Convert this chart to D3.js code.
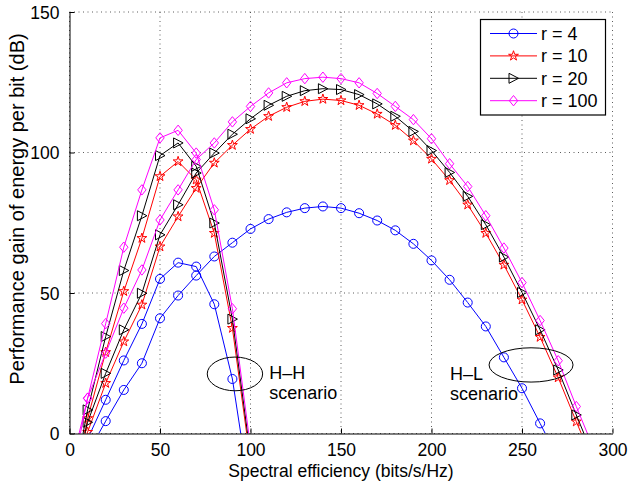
<!DOCTYPE html>
<html>
<head>
<meta charset="utf-8">
<script src="https://d3js.org/d3.v7.min.js"></script>
<style>
  html, body { margin: 0; padding: 0; background: #fff; }
  svg { display: block; font-family: "Liberation Sans", Arial, Helvetica, sans-serif; }
</style>
</head>
<body>
<svg id="chart" width="630" height="483"></svg>
<script>
// Spectral efficiency sample points (bits/s/Hz)
const hhX = [0, 10, 20, 30, 40, 50, 60, 70, 80, 90, 100];
const hlX = [0, 10, 20, 30, 40, 50, 60, 70, 80, 90, 100, 110, 120, 130, 140,
             150, 160, 170, 180, 190, 200, 210, 220, 230, 240, 250, 260, 270, 280, 290];

// Performance gain (dB), H-H scenario
const hhR4   = [-16, -2, 12, 26, 39, 55, 60.8, 59.4, 46, 19.4, -22.7];
const hhR10  = [-30, 5.4, 28.9, 50.6, 69.5, 91.5, 96.8, 90.3, 71.3, 37.5, -10];
const hhR20  = [-25, 8.4, 34.5, 58, 77.5, 98.9, 103.4, 95.1, 74.9, 40.7, -7.8];
const hhR100 = [-14, 12.5, 39.1, 66.3, 86.7, 105.2, 107.9, 99.8, 79.6, 44.4, -4.9];

// Performance gain (dB), H-L scenario
const hlR4   = [-18, -7, 4.4, 15.5, 25, 41, 49.1, 56.2, 63, 67.9, 72.8, 76.3, 78.7, 80.2, 80.8,
                80.2, 78.4, 75.8, 72.3, 67.5, 61.6, 54.7, 46.6, 38.1, 27.1, 16.1, 3.6, -9, -22, -35];
const hlR10  = [-15, 0.5, 17.9, 32.7, 45.8, 66.5, 77.2, 87.3, 96.3, 102.6, 108.3, 112.9, 116.1, 118.2, 119,
                118.5, 116.8, 113.7, 109.7, 104.2, 97.7, 90.1, 81.4, 71.3, 60, 47.6, 34.3, 19.9, 4.2, -11];
const hlR20  = [-22, 4, 21.4, 36.9, 49.9, 70.7, 81.4, 92.7, 99.8, 106.5, 112, 116.8, 120, 122, 122.7,
                122.4, 120.6, 117.3, 112.9, 107.5, 100.7, 92.9, 84.4, 74.3, 62.8, 50.2, 36.9, 22.6, 6.6, -9];
const hlR100 = [-19, 12.6, 28.6, 44.6, 58.2, 76, 86.7, 97.5, 103.4, 110.9, 116.4, 121.2, 124.8, 126.3, 126.8,
                126.3, 124.8, 121, 116.4, 111.7, 104.9, 96, 87.9, 77.5, 66, 53.7, 40.2, 25.9, 9.6, -6];

// Legend labels and axis ticks
const seriesLabels = ["r = 4", "r = 10", "r = 20", "r = 100"];
const xTicks = [0, 50, 100, 150, 200, 250, 300];
const yTicks = [0, 50, 100, 150];

// Scenario annotations: ellipse centre and radii in data units
const notes = [
  { cx: 91.4, cy: 21.2, rx: 15.3, ry: 6.0, tx: 110.4, ty: 19.4, lines: ["H\u2013H", "scenario"] },
  { cx: 255,  cy: 24.4, rx: 23.2, ry: 6.1, tx: 210.2, ty: 19.1, lines: ["H\u2013L", "scenario"] }
];

const styles = [
  { color: "#0000ff", marker: "circle" },
  { color: "#ff0000", marker: "star" },
  { color: "#000000", marker: "triangle" },
  { color: "#ff00ff", marker: "diamond" }
];

const series = [
  { x: hhX, y: hhR4, s: 0 }, { x: hlX, y: hlR4, s: 0 },
  { x: hhX, y: hhR10, s: 1 }, { x: hlX, y: hlR10, s: 1 },
  { x: hhX, y: hhR20, s: 2 }, { x: hlX, y: hlR20, s: 2 },
  { x: hhX, y: hhR100, s: 3 }, { x: hlX, y: hlR100, s: 3 }
];

const svg = d3.select("#chart");
const plotL = 69.5, plotR = 612.5, plotT = 12, plotB = 433.5;
const x = d3.scaleLinear().domain([0, 300]).range([plotL, plotR]);
const y = d3.scaleLinear().domain([0, 150]).range([plotB, plotT]);

svg.append("defs").append("clipPath").attr("id", "plotClip")
  .append("rect").attr("x", plotL).attr("y", plotT)
  .attr("width", plotR - plotL).attr("height", plotB - plotT);

// dotted grid
const grid = svg.append("g").attr("stroke", "#333").attr("stroke-width", 0.8)
  .attr("stroke-dasharray", "1,3.5").attr("fill", "none");
xTicks.forEach(t => grid.append("line").attr("x1", x(t)).attr("x2", x(t)).attr("y1", plotT).attr("y2", plotB));
yTicks.forEach(t => grid.append("line").attr("x1", plotL).attr("x2", plotR).attr("y1", y(t)).attr("y2", y(t)));

// marker shapes
function markerPath(kind) {
  switch (kind) {
    case "circle": return d3.symbol(d3.symbolCircle, 64)();
    case "star": return d3.symbol(d3.symbolStar, 30)();
    case "triangle": return "M-4.5,-5L5,0L-4.5,5Z";
    case "diamond": return "M0,-5.2L4.2,0L0,5.2L-4.2,0Z";
  }
}

const plot = svg.append("g").attr("clip-path", "url(#plotClip)");
const line = d3.line().x(d => x(d[0])).y(d => y(d[1]));

series.forEach(sr => {
  const st = styles[sr.s];
  const pts = sr.x.map((v, i) => [v, sr.y[i]]);
  plot.append("path").datum(pts).attr("d", line)
    .attr("fill", "none").attr("stroke", st.color).attr("stroke-width", 1);
  plot.append("g").selectAll("path").data(pts).join("path")
    .attr("transform", d => `translate(${x(d[0])},${y(d[1])})`)
    .attr("d", markerPath(st.marker))
    .attr("fill", "none").attr("stroke", st.color).attr("stroke-width", 1);
});

// axes (left and bottom only, inward ticks)
const xAxis = d3.axisBottom(x).tickValues(xTicks).tickSizeInner(-5).tickSizeOuter(0).tickPadding(10);
const yAxis = d3.axisLeft(y).tickValues(yTicks).tickSizeInner(-5).tickSizeOuter(0).tickPadding(10);
const gx = svg.append("g").attr("transform", `translate(0,${plotB})`).call(xAxis);
const gy = svg.append("g").attr("transform", `translate(${plotL},0)`).call(yAxis);
[gx, gy].forEach(g => {
  g.select(".domain").attr("stroke", "#000").attr("stroke-width", 1);
  g.selectAll(".tick line").attr("stroke", "#000");
  g.selectAll(".tick text").attr("fill", "#000").attr("font-size", 17.5)
    .attr("font-family", "Liberation Sans, Arial, sans-serif");
});
gy.selectAll(".tick text").attr("dy", "0.35em");

svg.append("text").attr("x", (plotL + plotR) / 2).attr("y", 477)
  .attr("text-anchor", "middle").attr("font-size", 17.5)
  .text("Spectral efficiency (bits/s/Hz)");
svg.append("text").attr("transform", "translate(24,209) rotate(-90)")
  .attr("text-anchor", "middle").attr("font-size", 20)
  .text("Performance gain of energy per bit (dB)");

// scenario annotations
notes.forEach(n => {
  svg.append("ellipse").attr("cx", x(n.cx)).attr("cy", y(n.cy))
    .attr("rx", x(n.rx) - x(0)).attr("ry", y(0) - y(n.ry))
    .attr("fill", "none").attr("stroke", "#000").attr("stroke-width", 1);
  n.lines.forEach((t, i) => {
    svg.append("text").attr("x", x(n.tx)).attr("y", y(n.ty) + i * 20.5)
      .attr("font-size", 18).attr("fill", "#000").text(t);
  });
});

// legend
const lg = svg.append("g");
lg.append("rect").attr("x", 480.5).attr("y", 19.5).attr("width", 125).attr("height", 95.5)
  .attr("fill", "#fff").attr("stroke", "#000").attr("stroke-width", 1.2);
seriesLabels.forEach((lab, i) => {
  const st = styles[i];
  const yy = 33.5 + i * 22.4;
  lg.append("line").attr("x1", 490).attr("x2", 537).attr("y1", yy).attr("y2", yy)
    .attr("stroke", st.color).attr("stroke-width", 1);
  lg.append("path").attr("transform", `translate(513.5,${yy})`).attr("d", markerPath(st.marker))
    .attr("fill", "none").attr("stroke", st.color).attr("stroke-width", 1);
  lg.append("text").attr("x", 541).attr("y", yy).attr("dy", "0.36em")
    .attr("font-size", 18).attr("fill", "#000").text(lab);
});
</script>
</body>
</html>
